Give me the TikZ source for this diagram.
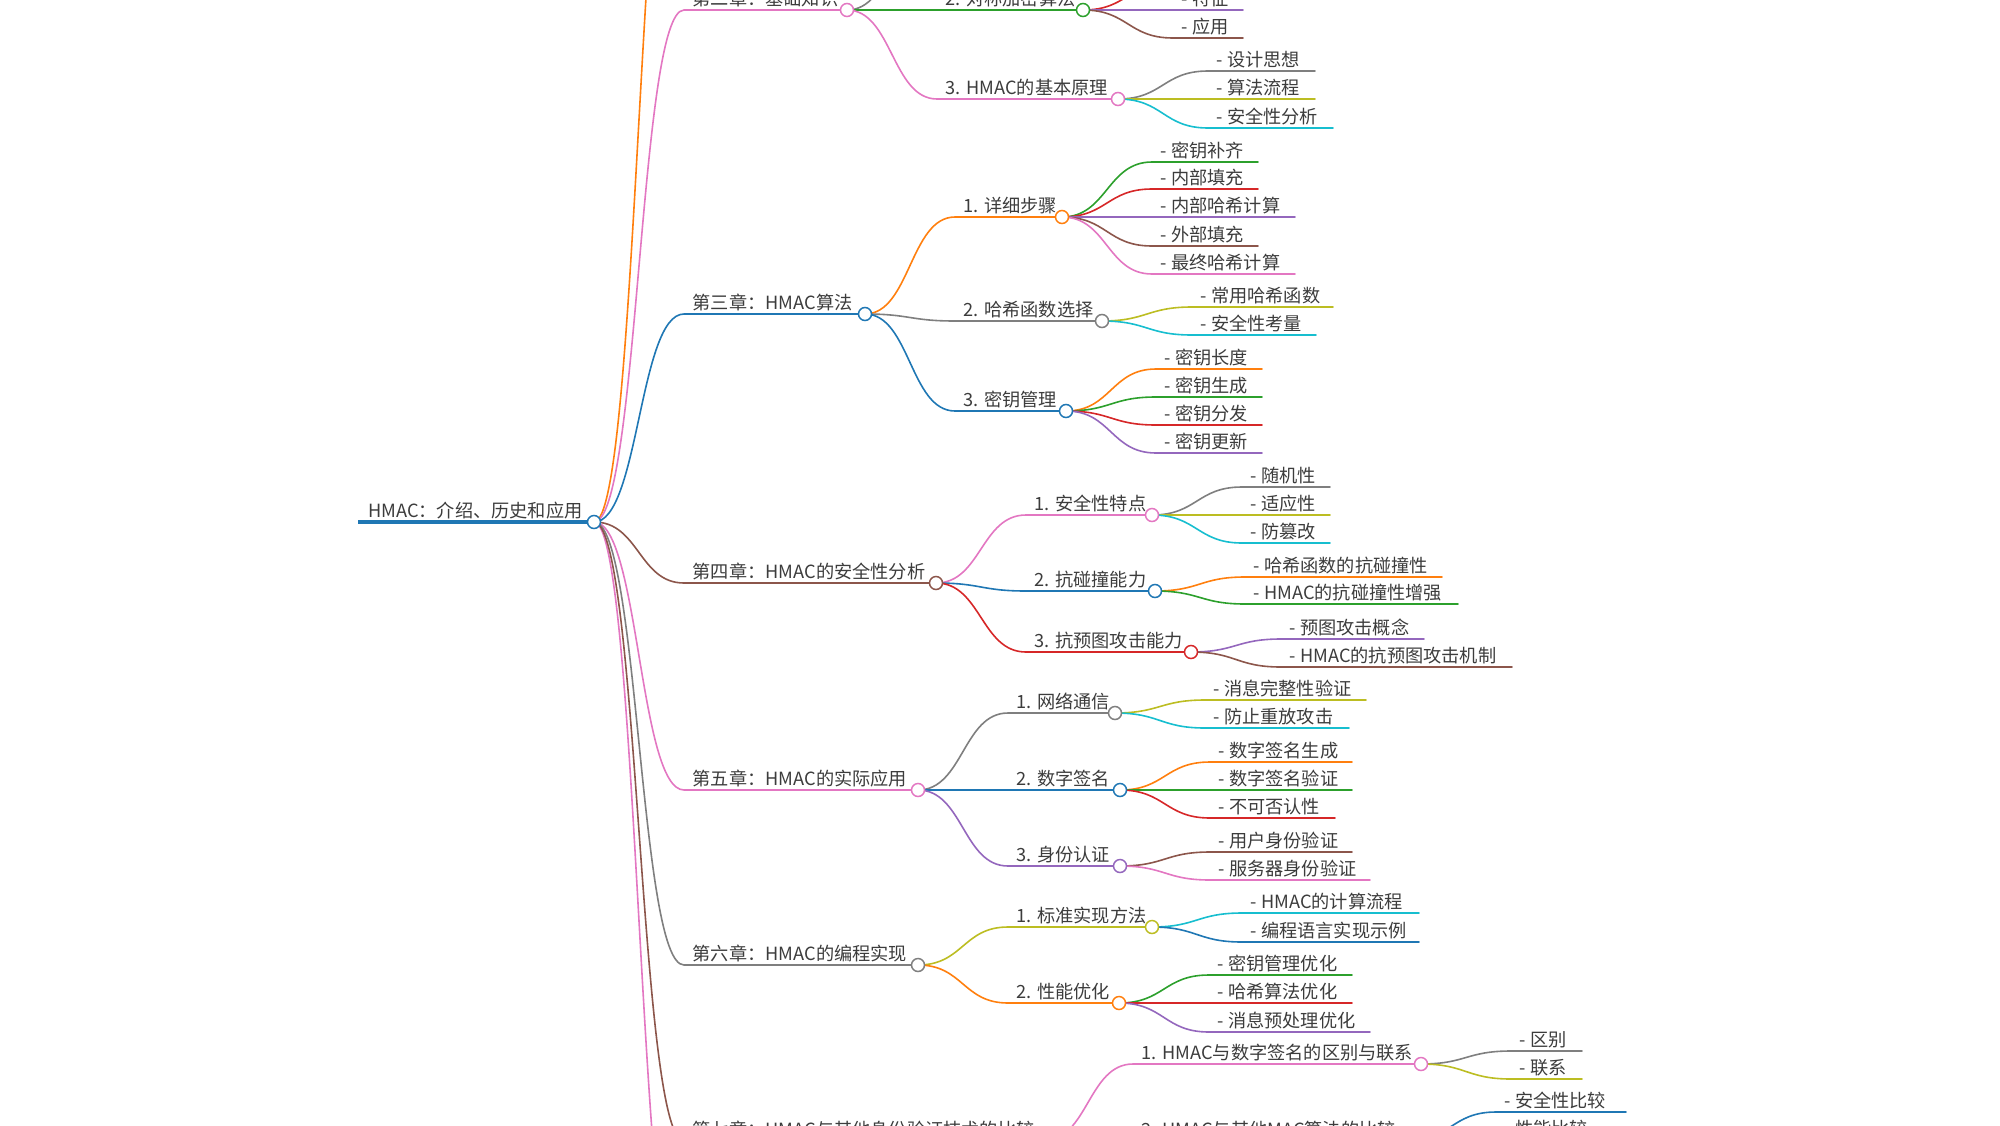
\documentclass[tikz,border=0pt]{standalone}
\usepackage{fontspec}
\newfontfamily\cjkf{Noto Sans CJK SC}
\usetikzlibrary{calc}
\definecolor{cB}{HTML}{1F77B4}
\definecolor{cO}{HTML}{FF7F0E}
\definecolor{cG}{HTML}{2CA02C}
\definecolor{cR}{HTML}{D62728}
\definecolor{cP}{HTML}{9467BD}
\definecolor{cBr}{HTML}{8C564B}
\definecolor{cPk}{HTML}{E377C2}
\definecolor{cGy}{HTML}{7F7F7F}
\definecolor{cOl}{HTML}{BCBD22}
\definecolor{cC}{HTML}{17BECF}
\definecolor{txtc}{HTML}{3C3C3C}
\pgfdeclarelayer{bg}
\pgfsetlayers{bg,main}
\tikzset{
  txt/.style={inner sep=0pt, anchor=base west, text=txtc, font=\cjkf\fontsize{18.2pt}{20pt}\selectfont},
  ln/.style={line width=1.6pt, line cap=round},
  sc/.style={out=0, in=180, distance=45pt},
  dot/.style={circle, inner sep=0pt, minimum size=13pt, fill=white, line width=1.5pt}
}
% name, colour, start x, y, end x, text, parent end coordinate
\newcommand\mmnode[7]{%
  \coordinate (#1-s) at (#3,#4);
  \coordinate (#1-e) at (#5,#4);
  \node[txt] (#1) at ($(#1-s)+(8.5,-5)$) {#6};
  \begin{pgfonlayer}{bg}
    \draw[ln, draw=#2] (#7) to[sc] (#1-s) -- (#1-e);
  \end{pgfonlayer}
}
% hidden child: name, colour, x, y, parent
\newcommand\mmhidden[5]{%
  \coordinate (#1-s) at (#3,#4);
  \begin{pgfonlayer}{bg}
    \draw[ln, draw=#2] (#5) to[sc] (#1-s);
  \end{pgfonlayer}
}
\newcommand\mmdot[2]{\node[dot, draw=#2] (#1-c) at (#1-e) {};}
\begin{document}
\begin{tikzpicture}[x=1pt, y=-1pt]
\useasboundingbox (0,0) rectangle (2000,1125);
\clip (0,0) rectangle (2000,1125);
% root
\coordinate (root-s) at (358,522);
\coordinate (root-e) at (594,522);
\node[txt] (root) at (368,517) {HMAC：介绍、历史和应用};
\begin{pgfonlayer}{bg}
  \draw[line width=4pt, draw=cB] (root-s) -- (root-e);
\end{pgfonlayer}
% chapter 1 (off frame) and chapter 8 (off frame)
\mmhidden{ch1}{cO}{684}{-283}{root-e}
\mmhidden{ch8}{cPk}{684}{1320}{root-e}
% chapter 2
\mmnode{ch2}{cPk}{684}{10}{847}{第二章：基础知识}{root-e}
\mmhidden{c21}{cGy}{937}{-75}{ch2-e}
\mmnode{c22}{cG}{937}{10}{1083}{2. 对称加密算法}{ch2-e}
\mmhidden{c22a}{cR}{1173}{-18}{c22-e}
\mmnode{c22b}{cP}{1173}{10}{1243}{- 特征}{c22-e}
\mmnode{c22c}{cBr}{1173}{38}{1243}{- 应用}{c22-e}
\mmnode{c23}{cPk}{937}{99}{1118}{3. HMAC的基本原理}{ch2-e}
\mmnode{c23a}{cGy}{1208}{71}{1315}{- 设计思想}{c23-e}
\mmnode{c23b}{cOl}{1208}{99}{1315}{- 算法流程}{c23-e}
\mmnode{c23c}{cC}{1208}{128}{1333}{- 安全性分析}{c23-e}
% chapter 3
\mmnode{ch3}{cB}{684}{314}{865}{第三章：HMAC算法}{root-e}
\mmnode{c31}{cO}{955}{217}{1062}{1. 详细步骤}{ch3-e}
\mmnode{c31a}{cG}{1152}{162}{1258}{- 密钥补齐}{c31-e}
\mmnode{c31b}{cR}{1152}{189}{1258}{- 内部填充}{c31-e}
\mmnode{c31c}{cP}{1152}{217}{1295}{- 内部哈希计算}{c31-e}
\mmnode{c31d}{cBr}{1152}{246}{1258}{- 外部填充}{c31-e}
\mmnode{c31e}{cPk}{1152}{274}{1295}{- 最终哈希计算}{c31-e}
\mmnode{c32}{cGy}{955}{321}{1102}{2. 哈希函数选择}{ch3-e}
\mmnode{c32a}{cOl}{1192}{307}{1333}{- 常用哈希函数}{c32-e}
\mmnode{c32b}{cC}{1192}{335}{1316}{- 安全性考量}{c32-e}
\mmnode{c33}{cB}{955}{411}{1066}{3. 密钥管理}{ch3-e}
\mmnode{c33a}{cO}{1156}{369}{1262}{- 密钥长度}{c33-e}
\mmnode{c33b}{cG}{1156}{397}{1262}{- 密钥生成}{c33-e}
\mmnode{c33c}{cR}{1156}{425}{1262}{- 密钥分发}{c33-e}
\mmnode{c33d}{cP}{1156}{453}{1262}{- 密钥更新}{c33-e}
% chapter 4
\mmnode{ch4}{cBr}{684}{583}{936}{第四章：HMAC的安全性分析}{root-e}
\mmnode{c41}{cPk}{1026}{515}{1152}{1. 安全性特点}{ch4-e}
\mmnode{c41a}{cGy}{1242}{487}{1330}{- 随机性}{c41-e}
\mmnode{c41b}{cOl}{1242}{515}{1330}{- 适应性}{c41-e}
\mmnode{c41c}{cC}{1242}{543}{1330}{- 防篡改}{c41-e}
\mmnode{c42}{cB}{1026}{591}{1155}{2. 抗碰撞能力}{ch4-e}
\mmnode{c42a}{cO}{1245}{577}{1442}{- 哈希函数的抗碰撞性}{c42-e}
\mmnode{c42b}{cG}{1245}{604}{1458}{- HMAC的抗碰撞性增强}{c42-e}
\mmnode{c43}{cR}{1026}{652}{1191}{3. 抗预图攻击能力}{ch4-e}
\mmnode{c43a}{cP}{1281}{639}{1424}{- 预图攻击概念}{c43-e}
\mmnode{c43b}{cBr}{1281}{667}{1512}{- HMAC的抗预图攻击机制}{c43-e}
% chapter 5
\mmnode{ch5}{cPk}{684}{790}{918}{第五章：HMAC的实际应用}{root-e}
\mmnode{c51}{cGy}{1008}{713}{1115}{1. 网络通信}{ch5-e}
\mmnode{c51a}{cOl}{1205}{700}{1366}{- 消息完整性验证}{c51-e}
\mmnode{c51b}{cC}{1205}{728}{1349}{- 防止重放攻击}{c51-e}
\mmnode{c52}{cB}{1008}{790}{1120}{2. 数字签名}{ch5-e}
\mmnode{c52a}{cO}{1210}{762}{1352}{- 数字签名生成}{c52-e}
\mmnode{c52b}{cG}{1210}{790}{1352}{- 数字签名验证}{c52-e}
\mmnode{c52c}{cR}{1210}{818}{1335}{- 不可否认性}{c52-e}
\mmnode{c53}{cP}{1008}{866}{1120}{3. 身份认证}{ch5-e}
\mmnode{c53a}{cBr}{1210}{852}{1352}{- 用户身份验证}{c53-e}
\mmnode{c53b}{cPk}{1210}{880}{1370}{- 服务器身份验证}{c53-e}
% chapter 6
\mmnode{ch6}{cGy}{684}{965}{918}{第六章：HMAC的编程实现}{root-e}
\mmnode{c61}{cOl}{1008}{927}{1152}{1. 标准实现方法}{ch6-e}
\mmnode{c61a}{cC}{1242}{913}{1419}{- HMAC的计算流程}{c61-e}
\mmnode{c61b}{cB}{1242}{942}{1419}{- 编程语言实现示例}{c61-e}
\mmnode{c62}{cO}{1008}{1003}{1119}{2. 性能优化}{ch6-e}
\mmnode{c62a}{cG}{1209}{975}{1352}{- 密钥管理优化}{c62-e}
\mmnode{c62b}{cR}{1209}{1003}{1352}{- 哈希算法优化}{c62-e}
\mmnode{c62c}{cP}{1209}{1032}{1370}{- 消息预处理优化}{c62-e}
% chapter 7
\mmnode{ch7}{cBr}{684}{1141}{1043}{第七章：HMAC与其他身份验证技术的比较}{root-e}
\mmnode{c71}{cPk}{1133}{1064}{1421}{1. HMAC与数字签名的区别与联系}{ch7-e}
\mmnode{c71a}{cGy}{1511}{1051}{1582}{- 区别}{c71-e}
\mmnode{c71b}{cOl}{1511}{1079}{1582}{- 联系}{c71-e}
\mmnode{c72}{cGy}{1133}{1141}{1406}{2. HMAC与其他MAC算法的比较}{ch7-e}
\mmnode{c72a}{cB}{1496}{1112}{1626}{- 安全性比较}{c72-e}
\mmnode{c72b}{cO}{1496}{1140}{1600}{- 性能比较}{c72-e}
% circles
\mmdot{root}{cB}
\mmdot{ch2}{cPk}
\mmdot{c22}{cG}
\mmdot{c23}{cPk}
\mmdot{ch3}{cB}
\mmdot{c31}{cO}
\mmdot{c32}{cGy}
\mmdot{c33}{cB}
\mmdot{ch4}{cBr}
\mmdot{c41}{cPk}
\mmdot{c42}{cB}
\mmdot{c43}{cR}
\mmdot{ch5}{cPk}
\mmdot{c51}{cGy}
\mmdot{c52}{cB}
\mmdot{c53}{cP}
\mmdot{ch6}{cGy}
\mmdot{c61}{cOl}
\mmdot{c62}{cO}
\mmdot{ch7}{cBr}
\mmdot{c71}{cPk}
\mmdot{c72}{cGy}
\end{tikzpicture}
\end{document}
